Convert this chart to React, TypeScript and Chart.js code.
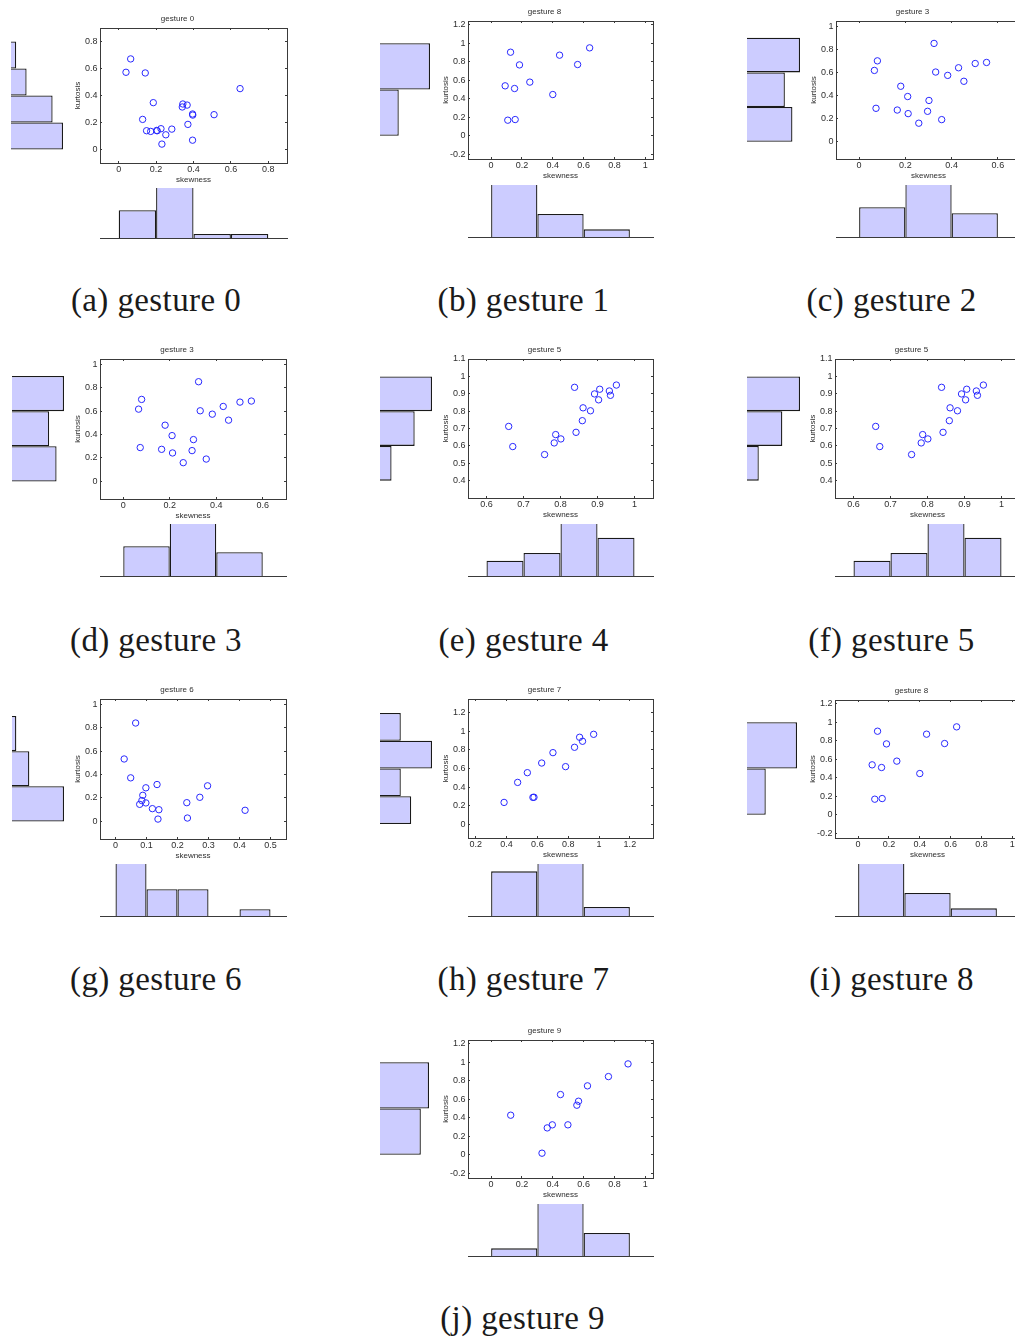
import React, { useEffect, useRef } from 'react';
import { Chart, registerables } from 'chart.js';

Chart.register(...registerables);

// ---------------- data ----------------
// gesture 0
const g0Skew = [0.039, 0.064, 0.142, 0.185, 0.128, 0.149, 0.171, 0.203, 0.206, 0.226, 0.231, 0.252, 0.284, 0.343, 0.340, 0.366, 0.370, 0.395, 0.396, 0.395, 0.510, 0.649];
const g0Kurt = [0.572, 0.671, 0.567, 0.347, 0.223, 0.139, 0.134, 0.141, 0.139, 0.154, 0.040, 0.109, 0.151, 0.337, 0.315, 0.329, 0.186, 0.263, 0.255, 0.069, 0.258, 0.451];
const g0SkewBins = [0, 0.2, 0.4, 0.6, 0.8];
const g0SkewCounts = [7, 13, 1, 1];
const g0KurtBins = [0, 0.2, 0.4, 0.6, 0.8];
const g0KurtCounts = [10, 8, 3, 1];
const g0XLim = [-0.1, 0.9];
const g0YLim = [-0.1, 0.9];
const g0XTicks = [0, 0.2, 0.4, 0.6, 0.8];
const g0YTicks = [0, 0.2, 0.4, 0.6, 0.8];

// gesture 3
const g3Skew = [0.066, 0.079, 0.073, 0.165, 0.180, 0.210, 0.212, 0.258, 0.296, 0.302, 0.324, 0.331, 0.357, 0.383, 0.430, 0.453, 0.502, 0.551];
const g3Kurt = [0.617, 0.700, 0.289, 0.274, 0.480, 0.391, 0.243, 0.160, 0.263, 0.357, 0.851, 0.603, 0.191, 0.574, 0.640, 0.523, 0.677, 0.686];
const g3SkewBins = [0, 0.2, 0.4, 0.6];
const g3SkewCounts = [5, 9, 4];
const g3KurtBins = [0, 0.3, 0.6, 0.9];
const g3KurtCounts = [6, 5, 7];
const g3XLim = [-0.1, 0.7];
const g3YLim = [-0.15, 1.045];
const g3XTicks = [0, 0.2, 0.4, 0.6];
const g3YTicks = [0, 0.2, 0.4, 0.6, 0.8, 1];

// gesture 5
const g5Skew = [0.660, 0.671, 0.757, 0.783, 0.787, 0.801, 0.838, 0.842, 0.859, 0.861, 0.881, 0.892, 0.903, 0.906, 0.932, 0.935, 0.951];
const g5Kurt = [0.712, 0.596, 0.550, 0.617, 0.665, 0.640, 0.937, 0.678, 0.745, 0.819, 0.802, 0.899, 0.865, 0.926, 0.916, 0.891, 0.950];
const g5SkewBins = [0.6, 0.7, 0.8, 0.9, 1.0];
const g5SkewCounts = [2, 3, 7, 5];
const g5KurtBins = [0.4, 0.6, 0.8, 1.0];
const g5KurtCounts = [2, 6, 9];
const g5XLim = [0.55, 1.05];
const g5YLim = [0.3, 1.1];
const g5XTicks = [0.6, 0.7, 0.8, 0.9, 1];
const g5YTicks = [0.4, 0.5, 0.6, 0.7, 0.8, 0.9, 1, 1.1];

// gesture 6
const g6Skew = [0.065, 0.028, 0.049, 0.098, 0.134, 0.088, 0.085, 0.078, 0.098, 0.119, 0.140, 0.137, 0.230, 0.232, 0.272, 0.297, 0.418];
const g6Kurt = [0.840, 0.533, 0.372, 0.287, 0.315, 0.223, 0.178, 0.146, 0.158, 0.109, 0.100, 0.020, 0.160, 0.029, 0.206, 0.304, 0.095];
const g6SkewBins = [0, 0.1, 0.2, 0.3, 0.4, 0.5];
const g6SkewCounts = [8, 4, 4, 0, 1];
const g6KurtBins = [0, 0.3, 0.6, 0.9];
const g6KurtCounts = [12, 4, 1];
const g6XLim = [-0.05, 0.55];
const g6YLim = [-0.15, 1.045];
const g6XTicks = [0, 0.1, 0.2, 0.3, 0.4, 0.5];
const g6YTicks = [0, 0.2, 0.4, 0.6, 0.8, 1];

// gesture 7
const g7Skew = [0.384, 0.472, 0.535, 0.571, 0.578, 0.628, 0.701, 0.783, 0.841, 0.874, 0.893, 0.965];
const g7Kurt = [0.234, 0.450, 0.555, 0.288, 0.290, 0.659, 0.771, 0.620, 0.829, 0.937, 0.894, 0.969];
const g7SkewBins = [0.3, 0.6, 0.9, 1.2];
const g7SkewCounts = [5, 6, 1];
const g7KurtBins = [0, 0.3, 0.6, 0.9, 1.2];
const g7KurtCounts = [3, 2, 5, 2];
const g7XLim = [0.15, 1.35];
const g7YLim = [-0.15, 1.35];
const g7XTicks = [0.2, 0.4, 0.6, 0.8, 1, 1.2];
const g7YTicks = [0, 0.2, 0.4, 0.6, 0.8, 1, 1.2];

// gesture 8
const g8Skew = [0.126, 0.184, 0.091, 0.152, 0.251, 0.108, 0.156, 0.400, 0.444, 0.561, 0.639];
const g8Kurt = [0.903, 0.766, 0.540, 0.511, 0.580, 0.169, 0.176, 0.446, 0.871, 0.770, 0.950];
const g8SkewBins = [0, 0.3, 0.6, 0.9];
const g8SkewCounts = [7, 3, 1];
const g8KurtBins = [0, 0.5, 1.0];
const g8KurtCounts = [3, 8];
const g8XLim = [-0.15, 1.05];
const g8YLim = [-0.25, 1.24];
const g8XTicks = [0, 0.2, 0.4, 0.6, 0.8, 1];
const g8YTicks = [-0.2, 0, 0.2, 0.4, 0.6, 0.8, 1, 1.2];

// gesture 9
const g9Skew = [0.127, 0.330, 0.364, 0.397, 0.450, 0.498, 0.556, 0.567, 0.625, 0.761, 0.888];
const g9Kurt = [0.428, 0.018, 0.291, 0.324, 0.651, 0.324, 0.536, 0.579, 0.745, 0.845, 0.982];
const g9SkewBins = [0, 0.3, 0.6, 0.9];
const g9SkewCounts = [1, 7, 3];
const g9KurtBins = [0, 0.5, 1.0];
const g9KurtCounts = [5, 6];
const g9XLim = [-0.15, 1.05];
const g9YLim = [-0.25, 1.24];
const g9XTicks = [0, 0.2, 0.4, 0.6, 0.8, 1];
const g9YTicks = [-0.2, 0, 0.2, 0.4, 0.6, 0.8, 1, 1.2];

type G = {
  skew: number[]; kurt: number[];
  xBins: number[]; xCounts: number[];
  yBins: number[]; yCounts: number[];
  xlim: number[]; ylim: number[];
  xticks: number[]; yticks: number[];
};

const G0: G = { skew: g0Skew, kurt: g0Kurt, xBins: g0SkewBins, xCounts: g0SkewCounts, yBins: g0KurtBins, yCounts: g0KurtCounts, xlim: g0XLim, ylim: g0YLim, xticks: g0XTicks, yticks: g0YTicks };
const G3: G = { skew: g3Skew, kurt: g3Kurt, xBins: g3SkewBins, xCounts: g3SkewCounts, yBins: g3KurtBins, yCounts: g3KurtCounts, xlim: g3XLim, ylim: g3YLim, xticks: g3XTicks, yticks: g3YTicks };
const G5: G = { skew: g5Skew, kurt: g5Kurt, xBins: g5SkewBins, xCounts: g5SkewCounts, yBins: g5KurtBins, yCounts: g5KurtCounts, xlim: g5XLim, ylim: g5YLim, xticks: g5XTicks, yticks: g5YTicks };
const G6: G = { skew: g6Skew, kurt: g6Kurt, xBins: g6SkewBins, xCounts: g6SkewCounts, yBins: g6KurtBins, yCounts: g6KurtCounts, xlim: g6XLim, ylim: g6YLim, xticks: g6XTicks, yticks: g6YTicks };
const G7: G = { skew: g7Skew, kurt: g7Kurt, xBins: g7SkewBins, xCounts: g7SkewCounts, yBins: g7KurtBins, yCounts: g7KurtCounts, xlim: g7XLim, ylim: g7YLim, xticks: g7XTicks, yticks: g7YTicks };
const G8: G = { skew: g8Skew, kurt: g8Kurt, xBins: g8SkewBins, xCounts: g8SkewCounts, yBins: g8KurtBins, yCounts: g8KurtCounts, xlim: g8XLim, ylim: g8YLim, xticks: g8XTicks, yticks: g8YTicks };
const G9: G = { skew: g9Skew, kurt: g9Kurt, xBins: g9SkewBins, xCounts: g9SkewCounts, yBins: g9KurtBins, yCounts: g9KurtCounts, xlim: g9XLim, ylim: g9YLim, xticks: g9XTicks, yticks: g9YTicks };

// ---------------- layout ----------------
type P = {
  g: G; title: string; caption: string;
  L: number; T: number; BW: number; BH: number;
  yhL: number; yhW: number; xhTop: number; xhBase: number;
  capX: number; capBase: number;
};

const PANELS: P[] = [
  { g: G0, title: 'gesture 0', caption: '(a) gesture 0', L: 100, T: 28, BW: 187, BH: 135, yhL: 11, yhW: 52, xhTop: 188, xhBase: 238, capX: 156, capBase: 311 },
  { g: G8, title: 'gesture 8', caption: '(b) gesture 1', L: 468, T: 21, BW: 185, BH: 138, yhL: 380, yhW: 50, xhTop: 185, xhBase: 237, capX: 523.5, capBase: 311 },
  { g: G3, title: 'gesture 3', caption: '(c) gesture 2', L: 836, T: 21, BW: 185, BH: 138, yhL: 747, yhW: 53, xhTop: 185, xhBase: 237, capX: 891.5, capBase: 311 },
  { g: G3, title: 'gesture 3', caption: '(d) gesture 3', L: 100, T: 359, BW: 186, BH: 140, yhL: 12, yhW: 52, xhTop: 524, xhBase: 576, capX: 156, capBase: 651 },
  { g: G5, title: 'gesture 5', caption: '(e) gesture 4', L: 468, T: 359, BW: 185, BH: 139, yhL: 380, yhW: 52, xhTop: 524, xhBase: 576, capX: 523.5, capBase: 651 },
  { g: G5, title: 'gesture 5', caption: '(f) gesture 5', L: 835, T: 359, BW: 185, BH: 139, yhL: 747, yhW: 53, xhTop: 524, xhBase: 576, capX: 891.5, capBase: 651 },
  { g: G6, title: 'gesture 6', caption: '(g) gesture 6', L: 100, T: 699, BW: 186, BH: 140, yhL: 12, yhW: 52, xhTop: 864, xhBase: 916, capX: 156, capBase: 990 },
  { g: G7, title: 'gesture 7', caption: '(h) gesture 7', L: 468, T: 699, BW: 185, BH: 139, yhL: 380, yhW: 52, xhTop: 864, xhBase: 916, capX: 523.5, capBase: 990 },
  { g: G8, title: 'gesture 8', caption: '(i) gesture 8', L: 835, T: 700, BW: 185, BH: 138, yhL: 747, yhW: 50, xhTop: 864, xhBase: 916, capX: 891.5, capBase: 990 },
  { g: G9, title: 'gesture 9', caption: '(j) gesture 9', L: 468, T: 1040, BW: 185, BH: 138, yhL: 380, yhW: 49, xhTop: 1204, xhBase: 1256, capX: 522.5, capBase: 1329.5 },
];

// ---------------- style ----------------
const FONT = "'Liberation Sans', Arial, Helvetica, sans-serif";
const TXT = '#2e2e2e';
const AXIS = '#3a3a3a';
const BAR_FILL = '#ccccff';
const BAR_EDGE = '#1a1a1a';
const BAR_LW = 1.3;
const MARK = 'rgb(40,40,255)';
const AXW = 32; // left axis width
const TITLE_H = 16;
const XAX_H = 24;

const fmt = (v: number) => String(Number(Number(v).toFixed(3)));

function ScatterPlot({ p }: { p: P }) {
  const ref = useRef<HTMLCanvasElement | null>(null);
  useEffect(() => {
    const g = p.g;
    const font = { family: FONT, size: 8, lineHeight: 1.2 };
    const tickFont = { family: FONT, size: 9, lineHeight: 1.2 };
    const tickGrid = { display: true, drawOnChartArea: false, drawTicks: true, tickLength: -2, color: AXIS, lineWidth: 1, offset: false };
    const border = { display: true, color: AXIS, width: 1 };
    const setTicks = (vals: number[]) => (s: any) => { s.ticks = vals.map((v) => ({ value: v })); };
    const chart = new Chart(ref.current as HTMLCanvasElement, {
      type: 'scatter',
      data: {
        datasets: [{
          data: g.skew.map((x, i) => ({ x, y: g.kurt[i] })),
          showLine: false,
          pointStyle: 'circle',
          pointRadius: 3.2,
          pointBorderWidth: 1,
          pointBorderColor: MARK,
          pointBackgroundColor: 'rgba(0,0,0,0)',
          xAxisID: 'x',
          yAxisID: 'y',
        }],
      },
      options: {
        animation: false,
        responsive: false,
        events: [],
        layout: { padding: { left: 0, right: AXW, top: 0, bottom: 0 } },
        plugins: {
          legend: { display: false },
          tooltip: { enabled: false },
          title: {
            display: true,
            text: p.title,
            color: TXT,
            font: { family: FONT, size: 8, weight: 'normal', lineHeight: 1.25 },
            padding: { top: 2, bottom: 4 },
          },
        },
        scales: {
          x: {
            type: 'linear', position: 'bottom', min: g.xlim[0], max: g.xlim[1],
            afterBuildTicks: setTicks(g.xticks),
            afterFit: (s: any) => { s.height = XAX_H; },
            grid: tickGrid, border,
            ticks: { autoSkip: false, maxRotation: 0, minRotation: 0, padding: 3.3, color: TXT, font: tickFont, callback: (v: any) => fmt(v) },
            title: { display: true, text: 'skewness', color: TXT, font, padding: { top: 0, bottom: 2.5 } },
          },
          x2: {
            type: 'linear', position: 'top', min: g.xlim[0], max: g.xlim[1],
            afterBuildTicks: setTicks(g.xticks),
            afterFit: (s: any) => { s.height = 0; },
            grid: tickGrid, border,
            ticks: { display: false },
          },
          y: {
            type: 'linear', position: 'left', min: g.ylim[0], max: g.ylim[1],
            afterBuildTicks: setTicks(g.yticks),
            afterFit: (s: any) => { s.width = AXW; },
            grid: tickGrid, border,
            ticks: { autoSkip: false, padding: 4.5, color: TXT, font: tickFont, callback: (v: any) => fmt(v) },
            title: { display: true, text: 'kurtosis', color: TXT, font, padding: { top: 4.5, bottom: 0 } },
          },
          y2: {
            type: 'linear', position: 'right', min: g.ylim[0], max: g.ylim[1],
            afterBuildTicks: setTicks(g.yticks),
            afterFit: (s: any) => { s.width = 0; },
            grid: tickGrid, border,
            ticks: { display: false },
          },
        },
      } as any,
    });
    return () => chart.destroy();
  }, [p]);
  return (
    <canvas
      ref={ref}
      width={p.BW + 2 * AXW}
      height={p.BH + TITLE_H + XAX_H}
      style={{ position: 'absolute', left: p.L - AXW, top: p.T - TITLE_H, width: p.BW + 2 * AXW, height: p.BH + TITLE_H + XAX_H }}
    />
  );
}

function binCenters(edges: number[]) {
  return edges.slice(0, -1).map((e, i) => (e + edges[i + 1]) / 2);
}

function SkewHist({ p }: { p: P }) {
  const ref = useRef<HTMLCanvasElement | null>(null);
  const h = p.xhBase - p.xhTop;
  useEffect(() => {
    const g = p.g;
    const centers = binCenters(g.xBins);
    const maxC = Math.max(...g.xCounts);
    const pts = centers.map((c, i) => ({ x: c, y: g.xCounts[i] })).filter((d) => d.y > 0);
    const chart = new Chart(ref.current as HTMLCanvasElement, {
      type: 'bar',
      data: {
        datasets: [{
          data: pts,
          backgroundColor: BAR_FILL,
          borderColor: BAR_EDGE,
          borderWidth: BAR_LW,
          borderSkipped: 'start',
          barPercentage: 1,
          categoryPercentage: 1,
          inflateAmount: 0,
        }],
      },
      options: {
        animation: false,
        responsive: false,
        events: [],
        layout: { padding: { left: 0, right: 1, top: 0, bottom: 2 } },
        plugins: { legend: { display: false }, tooltip: { enabled: false }, title: { display: false } },
        scales: {
          x: {
            type: 'linear', position: 'bottom', min: g.xlim[0], max: g.xlim[1], offset: false,
            afterBuildTicks: (s: any) => { s.ticks = []; },
            afterFit: (s: any) => { s.height = 0; },
            grid: { display: false, drawTicks: false, offset: false },
            ticks: { display: false },
            border: { display: true, color: AXIS, width: 1 },
          },
          y: { type: 'linear', min: 0, max: maxC * 0.97, display: false },
        },
      } as any,
    });
    return () => chart.destroy();
  }, [p]);
  return (
    <canvas
      ref={ref}
      width={p.BW + 1}
      height={h + 2}
      style={{ position: 'absolute', left: p.L, top: p.xhTop, width: p.BW + 1, height: h + 2 }}
    />
  );
}

function KurtHist({ p }: { p: P }) {
  const ref = useRef<HTMLCanvasElement | null>(null);
  useEffect(() => {
    const g = p.g;
    const centers = binCenters(g.yBins);
    const maxC = Math.max(...g.yCounts);
    const pts = centers.map((c, i) => ({ x: g.yCounts[i], y: c })).filter((d) => d.x > 0);
    const chart = new Chart(ref.current as HTMLCanvasElement, {
      type: 'bar',
      data: {
        datasets: [{
          data: pts,
          backgroundColor: BAR_FILL,
          borderColor: BAR_EDGE,
          borderWidth: BAR_LW,
          borderSkipped: 'start',
          barPercentage: 1,
          categoryPercentage: 1,
          inflateAmount: 0,
        }],
      },
      options: {
        indexAxis: 'y',
        animation: false,
        responsive: false,
        events: [],
        layout: { padding: { left: 0, right: 2, top: 0, bottom: 1 } },
        plugins: { legend: { display: false }, tooltip: { enabled: false }, title: { display: false } },
        scales: {
          y: {
            type: 'linear', min: g.ylim[0], max: g.ylim[1], display: false, offset: false,
            grid: { offset: false },
            afterBuildTicks: (s: any) => { s.ticks = []; },
          },
          x: { type: 'linear', min: 0, max: maxC, display: false },
        },
      } as any,
    });
    return () => chart.destroy();
  }, [p]);
  return (
    <canvas
      ref={ref}
      width={p.yhW + 2}
      height={p.BH + 1}
      style={{ position: 'absolute', left: p.yhL, top: p.T, width: p.yhW + 2, height: p.BH + 1 }}
    />
  );
}

function Caption({ p }: { p: P }) {
  return (
    <div
      style={{
        position: 'absolute',
        left: p.capX - 200,
        top: p.capBase - 31.1,
        width: 400,
        textAlign: 'center',
        fontFamily: "'Liberation Serif', 'Times New Roman', serif",
        fontSize: 33,
        lineHeight: '40px',
        letterSpacing: '0.4px',
        color: '#1a1a1a',
        whiteSpace: 'nowrap',
      }}
    >
      {p.caption}
    </div>
  );
}

export default function App() {
  return (
    <div style={{ position: 'absolute', left: 0, top: 0, width: 1015, height: 1340, overflow: 'hidden', background: '#ffffff' }}>
      {PANELS.map((p, i) => (
        <React.Fragment key={i}>
          <KurtHist p={p} />
          <SkewHist p={p} />
          <ScatterPlot p={p} />
          <Caption p={p} />
        </React.Fragment>
      ))}
    </div>
  );
}
